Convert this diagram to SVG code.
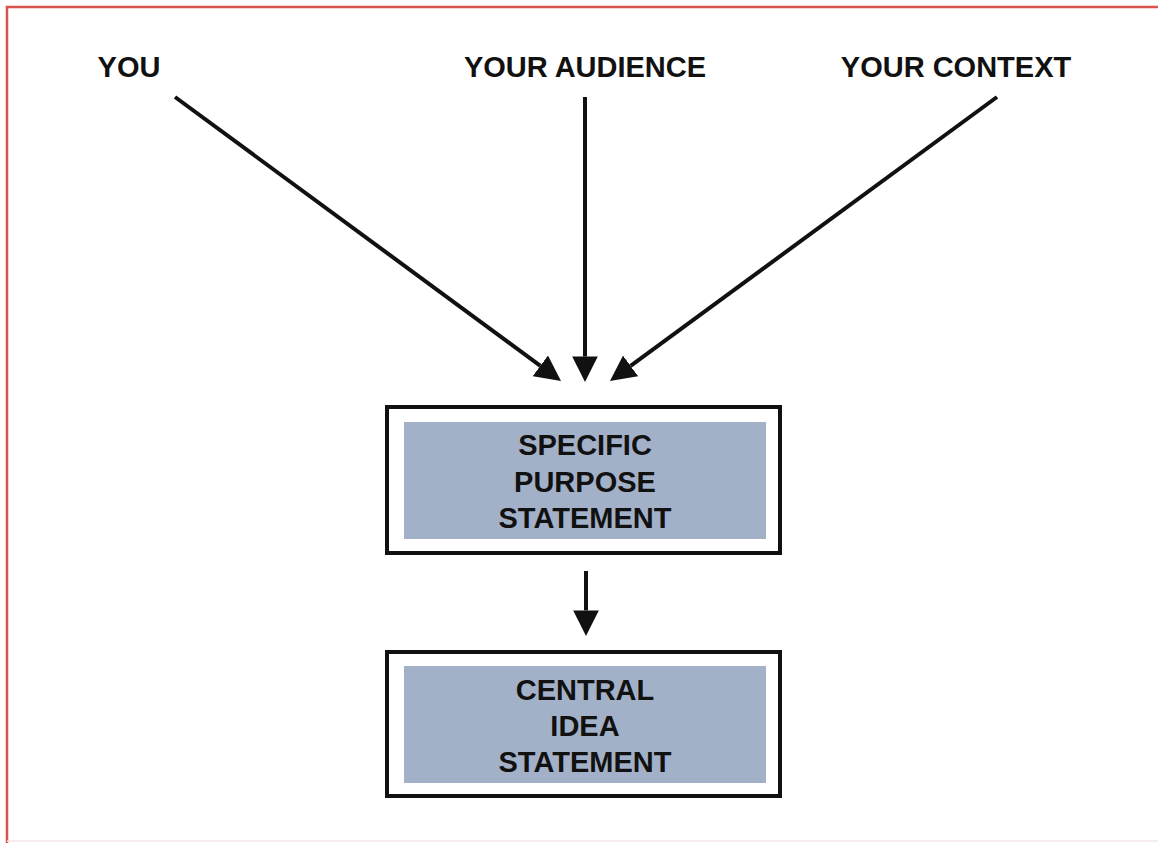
<svg xmlns="http://www.w3.org/2000/svg" width="1158" height="843" viewBox="0 0 1158 843">
<style>
.lbl{font-family:"Liberation Sans",Arial,sans-serif;font-weight:bold;font-size:29px;fill:#111;text-anchor:middle}
.outer{fill:#fff;stroke:#111;stroke-width:4}
.inner{fill:#a3b1c8}
.conn{stroke:#111;stroke-width:4;fill:none}
</style>
<defs>
<marker id="ah" viewBox="0 0 10 10" refX="0" refY="5" markerWidth="6.4" markerHeight="6.4" markerUnits="strokeWidth" orient="auto">
<path d="M0,0 L10,5 L0,10 Z" fill="#111"/>
</marker>
</defs>
<rect x="0" y="0" width="1158" height="843" fill="#fff"/>
<path d="M7,843 L7,7 L1158,7" fill="none" stroke="#d9534f" stroke-width="2.5"/>
<line x1="7" y1="841" x2="1158" y2="841" stroke="#f6e6e8" stroke-width="1.5"/>
<g id="you"><text class="lbl" x="129" y="77">YOU</text></g>
<g id="audience"><text class="lbl" x="585" y="77">YOUR AUDIENCE</text></g>
<g id="context"><text class="lbl" x="956" y="77">YOUR CONTEXT</text></g>
<g id="connectors">
<line class="conn" x1="175" y1="97" x2="540.4" y2="365.8" marker-end="url(#ah)"/>
<line class="conn" x1="585" y1="97" x2="585" y2="356.4" marker-end="url(#ah)"/>
<line class="conn" x1="997" y1="97" x2="630.6" y2="365.9" marker-end="url(#ah)"/>
<line class="conn" x1="586" y1="571" x2="586" y2="610.4" marker-end="url(#ah)"/>
</g>
<g id="specific">
<rect class="outer" x="387" y="407" width="393" height="146"/>
<rect class="inner" x="404" y="422" width="362" height="117"/>
<text class="lbl" x="585" y="455">SPECIFIC</text>
<text class="lbl" x="585" y="492">PURPOSE</text>
<text class="lbl" x="585" y="528">STATEMENT</text>
</g>
<g id="central">
<rect class="outer" x="387" y="652" width="393" height="144"/>
<rect class="inner" x="404" y="666" width="362" height="117"/>
<text class="lbl" x="585" y="700">CENTRAL</text>
<text class="lbl" x="585" y="736">IDEA</text>
<text class="lbl" x="585" y="772">STATEMENT</text>
</g>
</svg>
